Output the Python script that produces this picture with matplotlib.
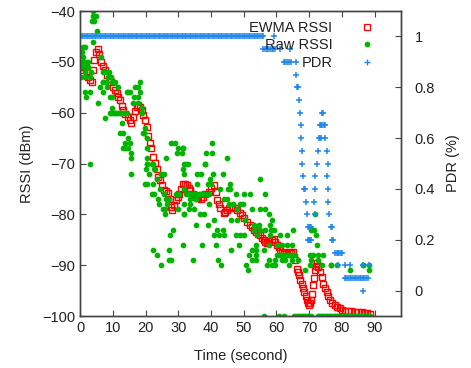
import matplotlib
matplotlib.use("Agg")
import matplotlib.pyplot as plt
from matplotlib.lines import Line2D

plt.rcParams['font.family'] = ['Liberation Sans', 'DejaVu Sans']

# EWMA RSSI (time s, dBm)
ewma_t = [0.0, 0.5, 1.0, 1.5, 2.0, 2.5, 3.0, 3.5, 4.0, 4.4, 4.9, 5.4, 5.9, 6.4, 7.0, 7.6, 8.3,
          9.1, 9.6, 10.2, 10.7, 11.2, 11.7, 12.2, 12.7, 13.2, 13.8, 14.7, 15.2, 15.7, 16.3,
          16.8, 17.3, 17.8, 18.3, 18.8, 19.3, 19.8, 20.3, 20.8, 21.3, 21.8, 22.4, 22.9, 23.4,
          23.9, 24.5, 25.0, 25.6, 26.2, 26.8, 27.4, 27.8, 28.2, 28.7, 29.3, 29.8, 30.3, 30.8,
          31.3, 32.0, 32.7, 33.2, 33.7, 34.5, 35.3, 36.0, 36.8, 37.5, 38.3, 39.3, 40.1, 40.9,
          41.4, 41.9, 42.4, 42.9, 43.9, 44.4, 44.9, 45.6, 46.4, 47.2, 48.0, 48.8, 49.5, 50.2,
          51.0, 51.8, 52.5, 53.1, 53.6, 54.3, 55.1, 55.6, 56.1, 56.6, 57.1, 57.8, 58.5, 59.2,
          59.7, 60.2, 60.7, 61.2, 61.7, 62.2, 63.0, 63.7, 64.4, 65.1, 65.6, 66.2, 66.6, 66.9,
          67.3, 67.7, 68.1, 68.5, 68.9, 69.2, 69.6, 69.9, 70.2, 70.5, 70.8, 71.2, 71.4, 71.7,
          72.0, 72.3, 72.8, 73.3, 73.8, 74.3, 74.8, 75.3, 75.8, 76.3, 77.0, 77.8, 78.6, 79.4,
          80.1, 80.9, 81.9, 82.9, 83.9, 84.9, 86.0, 87.0, 87.8, 88.5]
ewma_rssi = [-51, -51, -51.5, -51, -52, -53, -53.5, -54, -51.5, -49.6, -48, -47.4, -48.5, -50,
             -50.8, -51.6, -52.5, -53.3, -54, -54.9, -55.6, -56.2, -57, -57.5, -58.6, -59.5,
             -60.2, -60.8, -61.5, -62, -60.8, -59.6, -58.8, -58.5, -58.8, -59.5, -60.5, -61.5,
             -62.8, -64.5, -66, -67, -68.7, -69.8, -71, -72.6, -73.3, -74.3, -75.1, -75.4, -75.8,
             -76.9, -78.5, -79.2, -78.2, -77.2, -76.5, -75.9, -75, -74, -74, -74.2, -74.8, -75.2,
             -76, -76.5, -76.8, -77, -76.5, -76, -75.6, -74.8, -74.2, -75.6, -77.2, -78, -78.8,
             -79.8, -79.6, -79.2, -78.8, -78.5, -78.8, -79.2, -79.8, -80.2, -80.8, -81.5, -82,
             -82.4, -83, -83.4, -83.8, -84.1, -84.6, -85.1, -85.5, -85.7, -85.3, -85, -84.8,
             -85.5, -86.1, -86.5, -87, -87.4, -87.7, -87.6, -87.4, -87.5, -87.4, -89, -90.7,
             -91.4, -92, -92.8, -93.6, -94.4, -95.3, -96.1, -96.9, -97.4, -97.8, -97.4, -96.9,
             -95.6, -93.9, -92.5, -91, -90.2, -89.6, -90.4, -91.3, -92.4, -93.6, -94.5, -95.3,
             -96.1, -96.9, -97.4, -97.9, -98.2, -98.5, -98.7, -98.9, -99, -99, -99.1, -99.2,
             -99.2, -99.3, -99.4, -99.5]

# raw RSSI samples (time s, dBm)
raw_t = [3.9, 4.1, 4.9, 3.6, 4.3, 5.1, 3.9, 1.0, 1.5, 0.5, 0.8, 0.3, 1.0, 1.8, 2.5, 3.2, 1.5,
         3.05, 1.5, 0.2, 0.0, 0.6, 2.0, 2.3, 0.4, 6.4, 7.1, 8.0, 8.9, 8.4, 9.5, 6.9, 9.9, 10.8,
         11.5, 7.1, 7.9, 6.1, 8.3, 1.5, 3.05, 1.8, 7.1, 18.3, 17.8, 16.8, 18.3, 14.2, 15.2,
         17.8, 16.4, 16.1, 17.6, 14.5, 9.1, 9.7, 5.6, 9.7, 9.1, 9.6, 10.1, 10.6, 11.1, 11.6,
         12.1, 12.6, 13.1, 13.6, 14.2, 7.6, 12.7, 18.8, 18.8, 12.2, 13.2, 14.7, 13.7, 15.2,
         13.2, 15.7, 19.3, 19.8, 20.6, 19.6, 20.6, 14.0, 14.5, 15.5, 20.6, 22.2, 26.4, 27.9,
         28.9, 29.5, 31.0, 31.5, 29.8, 31.3, 32.5, 38.1, 38.6, 40.4, 40.4, 44.9, 3.05, 20.3,
         22.9, 15.5, 20.6, 22.1, 20.1, 22.7, 21.1, 19.9, 20.3, 22.4, 22.0, 22.7, 23.7, 24.2,
         25.2, 26.0, 26.0, 26.2, 27.2, 29.3, 30.3, 29.8, 31.8, 24.7, 25.7, 31.3, 28.5, 27.4,
         31.3, 22.2, 23.4, 27.2, 27.2, 27.8, 24.7, 23.5, 24.5, 25.5, 26.5, 31.9, 32.9, 38.3,
         31.7, 35.8, 36.8, 40.7, 43.7, 39.6, 35.8, 39.0, 39.9, 45.7, 45.1, 45.9, 42.7, 55.1,
         31.7, 32.5, 33.0, 33.5, 34.0, 34.5, 35.0, 35.5, 36.0, 36.5, 37.0, 37.5, 38.0, 38.5,
         39.3, 33.7, 35.3, 47.5, 50.0, 52.0, 56.4, 44.0, 45.0, 39.3, 31.7, 33.5, 45.4, 46.8,
         49.0, 49.8, 33.2, 34.8, 48.0, 52.5, 54.9, 56.6, 31.7, 36.6, 38.0, 57.6, 41.0, 46.2,
         47.8, 50.5, 58.6, 35.3, 39.0, 53.0, 54.6, 57.9, 41.7, 43.7, 53.0, 55.1, 56.6, 58.3,
         59.4, 40.9, 42.4, 44.1, 47.5, 49.0, 50.0, 54.0, 58.1, 61.2, 63.2, 37.3, 41.4, 48.5,
         53.9, 57.6, 60.2, 61.7, 63.2, 52.5, 53.6, 56.1, 46.1, 51.5, 53.6, 62.2, 34.5, 52.5,
         53.6, 57.6, 59.7, 61.7, 62.7, 42.1, 43.1, 50.8, 57.1, 58.6, 59.7, 63.7, 51.3, 60.2,
         60.7, 61.2, 61.7, 62.7, 63.2, 63.7, 64.2, 65.1, 64.6, 64.6, 65.6, 64.6, 66.6, 68.7,
         71.7, 70.7, 71.5, 72.0, 72.3, 70.2, 71.2, 72.8, 74.3, 70.7, 72.6, 74.0, 76.8, 78.6,
         82.4, 86.3, 88.2, 70.1, 76.7, 86.4, 88.4,
         56.1, 60.7, 62.4, 65.5, 66.0, 66.5, 67.0, 67.5, 68.0, 68.5, 69.0, 69.5, 70.0, 70.7,
         72.6, 73.0, 73.5, 74.0, 74.5, 75.0, 75.5, 76.0, 76.5, 77.0, 77.5, 78.0, 78.5, 79.0,
         79.5, 80.0, 80.5, 81.0, 81.5, 82.0, 82.5, 83.0, 83.5, 84.0, 84.5, 85.0, 85.5, 86.0,
         86.5, 87.0, 87.5, 88.0, 88.5]
raw_rssi = [-40, -41, -41, -42, -42, -44, -46, -47, -47, -48, -49, -48, -50, -50, -51, -52, -52,
            -53, -53, -50, -51, -51, -51, -50, -53, -49, -52, -52, -52, -53, -53, -54, -54, -54,
            -55, -54, -54, -55, -55, -56, -56, -57, -56, -54, -55, -55, -56, -56, -56,
            -57, -57, -58, -58, -56, -57, -57, -58, -59, -60, -60, -60, -60, -60, -60,
            -60, -60, -60, -60, -60, -61, -62, -59, -60, -64, -64, -65, -66, -66,
            -67, -68, -64, -63, -65, -64, -67, -67, -67, -69, -69, -70, -69, -66,
            -66, -68, -68, -67, -67, -67, -70, -70, -68, -66, -68, -69, -70, -70,
            -71, -72, -70, -70, -71, -71, -72, -74, -74, -74, -76, -76, -77, -78,
            -79, -79, -80, -77, -77, -76, -76, -79, -80, -72, -72, -71, -83, -84,
            -86, -87, -88, -87, -89, -89, -90, -73, -75, -76, -78, -70, -70, -70,
            -72, -72, -72, -72, -72, -73, -74, -74, -74, -74, -75, -75, -75, -73,
            -75, -76, -76, -76, -76, -76, -76, -76, -76, -76, -76, -76, -76, -76,
            -76, -77, -77, -76, -76, -76, -76, -77, -77, -78, -78, -78, -78, -78,
            -78, -78, -79, -79, -79, -79, -79, -79, -80, -80, -80, -80, -81, -81,
            -81, -81, -81, -82, -82, -82, -82, -82, -83, -83, -83, -83, -83, -83,
            -83, -84, -84, -84, -84, -84, -84, -84, -84, -84, -84, -86, -86, -86,
            -86, -86, -86, -86, -86, -87, -87, -87, -87, -88, -88, -88, -89, -89,
            -89, -89, -89, -89, -89, -89, -90, -90, -90, -90, -90, -90, -91, -88,
            -88, -88, -88, -88, -88, -88, -88, -83, -86, -88, -88, -89, -89, -91,
            -80, -83, -83, -84, -86, -88, -88, -88, -88, -89, -89, -90, -90, -90,
            -91, -90, -91, -90, -90, -90, -90,
            -100, -100, -100, -100, -100, -100, -100, -100, -100, -100, -100, -100, -100, -100,
            -100, -100, -100, -100, -100, -100, -100, -100, -100, -100, -100, -100, -100, -100,
            -100, -100, -100, -100, -100, -100, -100, -100, -100, -100, -100, -100, -100, -100,
            -100, -100, -100, -100, -100]

# PDR (time s, ratio)
pdr_full_t = [0, 0.5, 1, 1.5, 2, 2.5, 3, 3.5, 4, 4.5, 5, 5.5, 6, 6.5, 7, 7.5, 8, 8.5, 9, 9.5,
              10, 10.5, 11, 11.5, 12, 12.5, 13, 13.5, 14, 14.5, 15, 15.5, 16, 16.5, 17, 17.5,
              18, 18.5, 19, 19.5, 20, 20.5, 21, 21.5, 22, 22.5, 23, 23.5, 24, 24.5, 25, 25.5,
              26, 26.5, 27, 27.5, 28, 28.5, 29, 29.5, 30, 30.5, 31, 31.5, 32, 32.5, 33, 33.5,
              34, 34.5, 35, 35.5, 36, 36.5, 37, 37.5, 38, 38.5, 39, 39.5, 40, 40.5, 41, 41.5,
              42, 42.5, 43, 43.5, 44, 44.5, 45, 45.5, 46, 46.5, 47, 47.5, 48, 48.5, 49, 49.5,
              50, 50.5, 51, 51.5, 52, 52.5, 53, 53.5, 54, 54.5, 55, 55.5, 56.0, 59.4]
pdr_t = pdr_full_t + [
         55.9, 56.5, 57.0, 57.5, 58.0, 58.5, 59.0, 59.5, 61.2, 64.2,
         62.2, 62.7, 63.2, 63.7, 64.4, 66.0,
         65.9, 66.2, 66.5, 66.9, 67.1, 73.8, 74.3, 67.4, 73.3, 73.7, 74.0, 74.4, 74.8,
         67.5, 73.0, 73.3, 73.5, 74.8, 67.7, 72.6, 75.4, 67.9, 72.3, 75.6,
         68.2, 71.9, 75.3, 68.5, 68.7, 71.7, 75.6, 68.9, 71.5, 75.8, 69.2, 71.7, 76.0,
         69.5, 69.8, 70.1, 70.4, 70.7, 76.6, 76.9, 69.5, 69.8, 70.1, 70.4, 70.7, 77.1, 77.4,
         78.0, 78.4, 78.8, 79.2, 79.6, 80.1, 78.9, 80.9, 82.4, 86.5, 88.2,
         80.9, 81.4, 81.9, 82.4, 82.9, 83.4, 83.9, 84.4, 84.9, 85.4, 85.9, 86.4, 86.9, 87.4,
         88.0, 86.3]
pdr = [1.0] * len(pdr_full_t) + [0.95] * 10 + [0.9] * 6 + \
      [0.85, 0.8, 0.8, 0.75, 0.7, 0.7, 0.7, 0.65, 0.65, 0.65, 0.65, 0.65, 0.65,
       0.6, 0.6, 0.6, 0.6, 0.6, 0.55, 0.55, 0.55, 0.5, 0.5, 0.5,
       0.45, 0.45, 0.45, 0.4, 0.4, 0.4, 0.4, 0.35, 0.35, 0.35, 0.3, 0.3, 0.3] + \
      [0.25] * 7 + [0.2] * 7 + [0.15] * 6 + [0.1] * 5 + [0.05] * 15 + [0.0]

fig = plt.figure(figsize=(4.71, 3.68), dpi=100)
ax = fig.add_axes([0.170, 0.141, 0.681, 0.829])
ax2 = ax.twinx()

ax.plot(ewma_t, ewma_rssi, 's', ms=4.8, mfc='none', mec='#ff0000', mew=1.0, label='EWMA RSSI')
ax.plot(raw_t, raw_rssi, 'o', ms=3.1, color='#00b400', mec='#00b400', label='Raw RSSI')
ax2.plot(pdr_t, pdr, '+', ms=4.5, mew=1.1, color='#1e88f0', label='PDR')

ax.set_xlim(0, 98)
ax.set_ylim(-100, -40)
ax2.set_ylim(-0.1, 1.1)
ax.set_xticks(range(0, 100, 10))
ax.set_yticks(range(-100, -39, 10))
ax2.set_yticks([0, 0.2, 0.4, 0.6, 0.8, 1])
ax2.set_yticklabels(['0', '0.2', '0.4', '0.6', '0.8', '1'])

ax.tick_params(direction='in', length=4, width=0.8, top=True, right=False,
               labelsize=10.5, colors='#444444', labelcolor='#222222')
ax2.tick_params(direction='in', length=4, width=0.8, labelsize=10.5,
                colors='#444444', labelcolor='#222222', pad=10)
for a in (ax, ax2):
    for s in a.spines.values():
        s.set_color('#444444')
        s.set_linewidth(1)

ax.set_xlabel('Time (second)', fontsize=10.5, color='#222222', labelpad=10)
ax.set_ylabel('RSSI (dBm)', fontsize=10.5, color='#222222', labelpad=6)
ax2.set_ylabel('PDR (%)', fontsize=10.5, color='#222222', labelpad=8)

handles = [Line2D([], [], ls='none', marker='s', ms=4.3, mfc='none', mec='#ff0000', mew=0.9),
           Line2D([], [], ls='none', marker='o', ms=3.1, color='#00b400'),
           Line2D([], [], ls='none', marker='+', ms=4.5, mew=1, color='#1e88f0')]
ax2.legend(handles, ['EWMA RSSI', 'Raw RSSI', 'PDR'], loc='upper right',
           bbox_to_anchor=(0.96, 1.0), frameon=False, markerfirst=False,
           fontsize=10.5, handlelength=1.5, handletextpad=1.6, labelspacing=0.22,
           borderaxespad=0.3, labelcolor='#222222')

fig.savefig('out.png', dpi=100)
